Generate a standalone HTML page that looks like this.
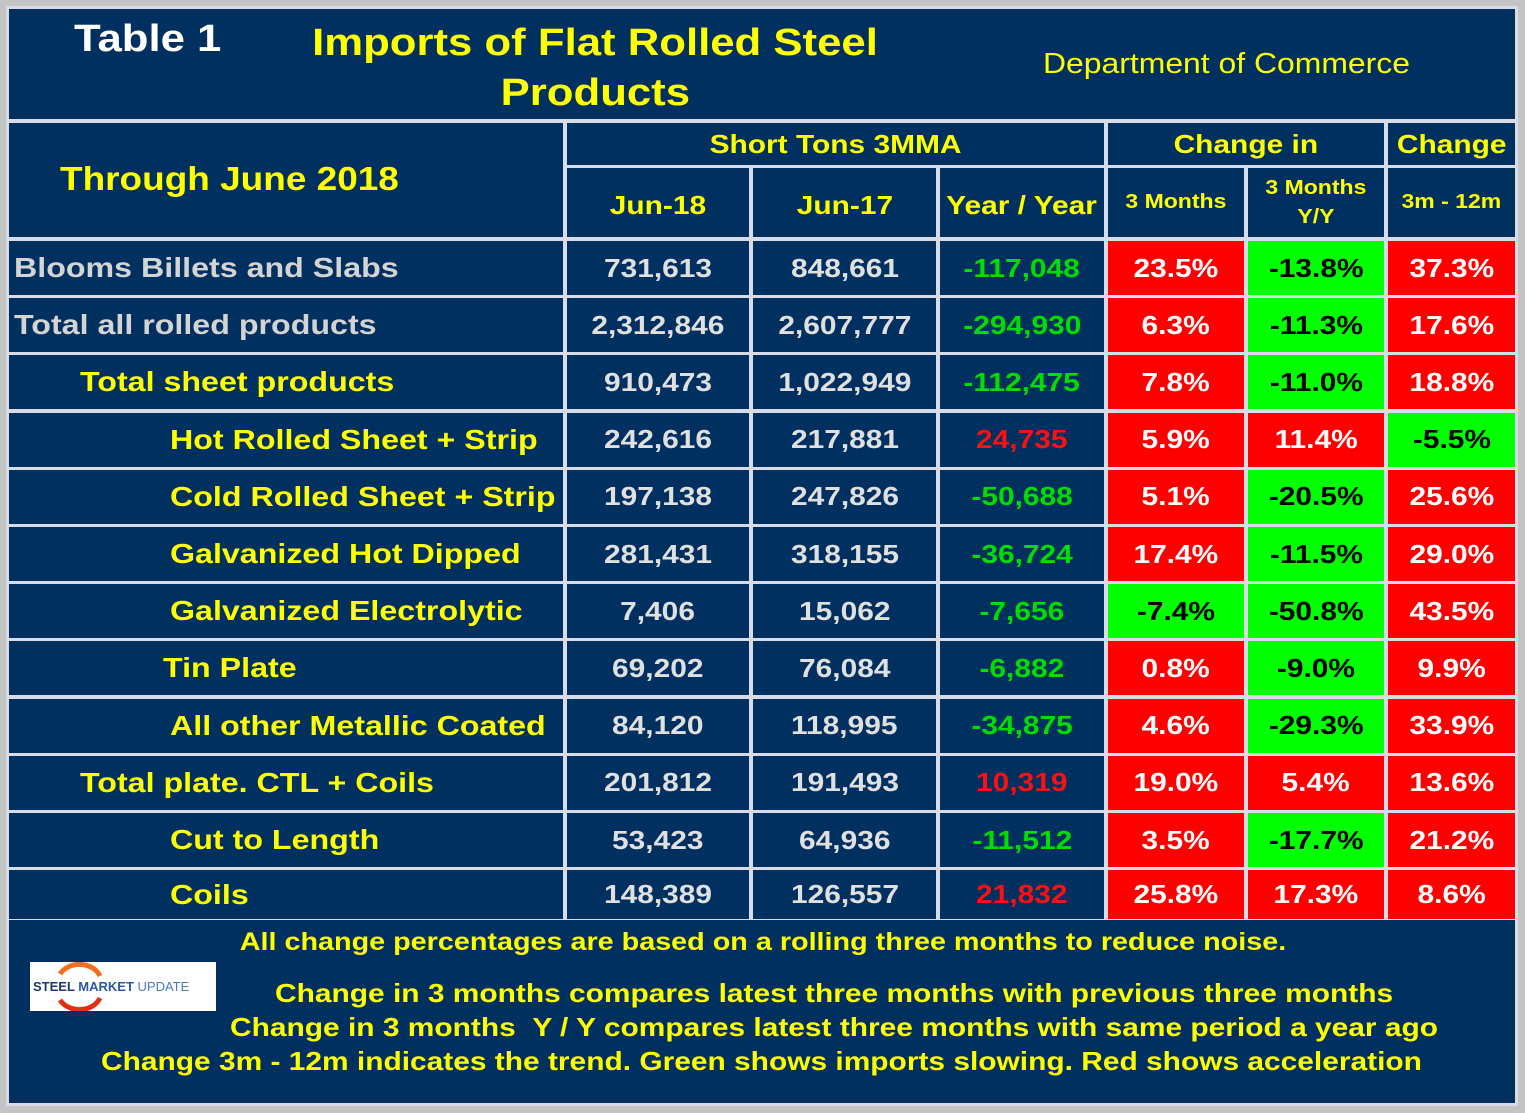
<!DOCTYPE html>
<html><head><meta charset="utf-8">
<style>
body{margin:0;width:1525px;height:1113px;background:#c4c4c4;font-family:"Liberation Sans",Arial,sans-serif;font-weight:bold;overflow:hidden;position:relative}
.c{position:absolute;box-sizing:border-box;background:#00305f;display:flex;align-items:center;justify-content:center;white-space:nowrap}
.frame{position:absolute;left:6px;top:6px;width:1512px;height:1100px;background:#d8dce8}
.t{position:absolute;white-space:nowrap}
.s{display:inline-block;transform:scaleX(1.15);transform-origin:center}
.sl{display:inline-block;transform:scaleX(1.15);transform-origin:left}
</style></head>
<body>
<div class="frame"></div>
<div class="c" style="left:9px;top:9px;width:1506px;height:110px"></div>
<div class="t" style="left:74px;top:18px;color:#fff;font-size:38px"><span class="sl">Table 1</span></div>
<div class="t" style="left:318px;top:18px;color:#ffff00;font-size:38px;text-align:center;width:554px;line-height:50px"><span class="s">Imports of Flat Rolled Steel</span><br><span class="s">Products</span></div>
<div class="t" style="left:1043px;top:48px;color:#ffff00;font-size:29px;font-weight:normal"><span class="sl" style="transform:scaleX(1.1)">Department of Commerce</span></div>
<div id="grid"></div>
<div class="c" style="left:9px;top:920px;width:1506px;height:183px"></div>
<div class="t" style="left:0;width:1525px;text-align:center;top:928px;color:#ffff00;font-size:25px"><span class="s">All change percentages are based on a rolling three months to reduce noise.</span></div>
<div class="t" style="left:275px;top:978px;color:#ffff00;font-size:26px"><span class="sl">Change in 3 months compares latest three months with previous three months</span></div>
<div class="t" style="left:230px;top:1012px;color:#ffff00;font-size:26px"><span class="sl">Change in 3 months &nbsp;Y / Y compares latest three months with same period a year ago</span></div>
<div class="t" style="left:101px;top:1046px;color:#ffff00;font-size:26px"><span class="sl">Change 3m - 12m indicates the trend. Green shows imports slowing. Red shows acceleration</span></div>
<div style="position:absolute;left:30px;top:962px;width:186px;height:49px;background:#fff">
<svg width="186" height="49" style="position:absolute;left:0;top:0"><path d="M30 12 A22 18 0 0 1 70 14" stroke="#f07020" stroke-width="5" fill="none"/><path d="M30 38 A22 18 0 0 0 70 36" stroke="#e03010" stroke-width="5" fill="none"/></svg>
<div class="t" style="left:3px;top:17px;font-size:13px;color:#1a3a70">STEEL <span style="color:#2a5aa0">MARKET</span> <span style="font-weight:normal;color:#4a7ac0">UPDATE</span></div>
</div>
<script>
const labels=["Blooms Billets and Slabs","Total all rolled products","Total sheet products","Hot Rolled Sheet + Strip","Cold Rolled Sheet + Strip","Galvanized Hot Dipped","Galvanized Electrolytic","Tin Plate","All other Metallic Coated","Total plate. CTL + Coils","Cut to Length","Coils"];
const indent=[14,14,80,170,170,170,170,163,170,80,170,170];
const jun18=[731613,2312846,910473,242616,197138,281431,7406,69202,84120,201812,53423,148389];
const jun17=[848661,2607777,1022949,217881,247826,318155,15062,76084,118995,191493,64936,126557];
const yoy=[-117048,-294930,-112475,24735,-50688,-36724,-7656,-6882,-34875,10319,-11512,21832];
const ch3m=[23.5,6.3,7.8,5.9,5.1,17.4,-7.4,0.8,4.6,19.0,3.5,25.8];
const ch3mYY=[-13.8,-11.3,-11.0,11.4,-20.5,-11.5,-50.8,-9.0,-29.3,5.4,-17.7,17.3];
const ch3m12m=[37.3,17.6,18.8,-5.5,25.6,29.0,43.5,9.9,33.9,13.6,21.2,8.6];
const g=document.getElementById('grid');
function cell(x,y,w,h,txt,o,name,left){const d=document.createElement('div');d.className='c';
d.style.cssText+=`left:${x}px;top:${y}px;width:${w}px;height:${h}px;`+(o||'');
d.innerHTML=txt?`<span class="${left?'sl':'s'}">${txt}</span>`:'';


g.appendChild(d);return d;}
cell(9,123,554,114,'','','period-header-cell');
const th=document.createElement('div');th.className='t';th.style.cssText='left:60px;top:160px;color:#ffff00;font-size:33px';th.innerHTML='<span class="sl" style="transform:scaleX(1.12)">Through June 2018</span>';


g.appendChild(th);
const Y='color:#ffff00;';
cell(567,123,537,42,'Short Tons 3MMA',Y+'font-size:26px','short-tons-header');
cell(1108,123,276,42,'Change in',Y+'font-size:26px','change-in-header');
cell(1388,123,127,42,'Change',Y+'font-size:26px','change-header');
cell(567,168,182,69,'Jun-18',Y+'font-size:26px;padding-top:6px','jun18-header');
cell(753,168,183,69,'Jun-17',Y+'font-size:26px;padding-top:6px','jun17-header');
cell(940,168,164,69,'Year / Year',Y+'font-size:26px;padding-top:6px','yoy-header');
cell(1108,168,136,69,'3 Months',Y+'font-size:20px','3m-header');
cell(1248,168,136,69,'3 Months<br>Y/Y',Y+'font-size:20px;text-align:center;line-height:29px','3m-yy-header');
cell(1388,168,127,69,'3m - 12m',Y+'font-size:20px','3m-12m-header');
const fmt=v=>(v<0?'-':'')+Math.abs(v).toLocaleString('en-US');
const pct=v=>v.toFixed(1)+'%';
const bg=v=>v<0?'background:#00ff00;color:#000;':'background:#ff0000;color:#fff;';
for(let i=0;i<labels.length;i++){
 const y=241+i*57.2, h=i==11?49:54;
 const lc=i<2?'color:#d4d4d4;':'color:#ffff00;';
 cell(9,y,554,h,labels[i],lc+`font-size:28px;justify-content:flex-start;padding-left:${indent[i]-9}px`,'row-label',true);
 cell(567,y,182,h,fmt(jun18[i]),'color:#e0e0e0;font-size:26px','jun18-value');
 cell(753,y,183,h,fmt(jun17[i]),'color:#e0e0e0;font-size:26px','jun17-value');
 cell(940,y,164,h,fmt(yoy[i]),(yoy[i]<0?'color:#00dd00;':'color:#ff1010;')+'font-size:26px','yoy-value');
 cell(1108,y,136,h,pct(ch3m[i]),bg(ch3m[i])+'font-size:26px','change-3m-cell');
 cell(1248,y,136,h,pct(ch3mYY[i]),bg(ch3mYY[i])+'font-size:26px','change-3m-yy-cell');
 cell(1388,y,127,h,pct(ch3m12m[i]),bg(ch3m12m[i])+'font-size:26px','change-3m-12m-cell');
}
</script>
</body></html>
